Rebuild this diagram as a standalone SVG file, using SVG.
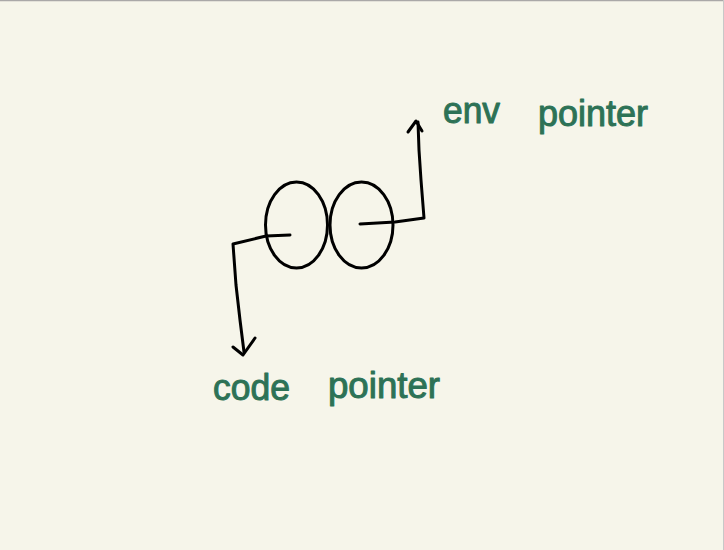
<svg xmlns="http://www.w3.org/2000/svg" width="724" height="550" viewBox="0 0 724 550">
<style>
.ink{fill:none;stroke:#000;stroke-width:3;stroke-linecap:round;stroke-linejoin:round}
.lbl{font-family:"Liberation Sans","DejaVu Sans",sans-serif;font-size:36px;fill:#2d7256;stroke:#2d7256;stroke-width:1;stroke-linejoin:round}
</style>
<rect x="0" y="0" width="724" height="550" fill="#f6f5ea"/>
<line x1="0" y1="0.5" x2="724" y2="0.5" stroke="#aaa8a8" stroke-width="1.5"/>
<line x1="723.5" y1="0" x2="723.5" y2="550" stroke="#c8c8c8" stroke-width="1"/>
<g id="cell-left"><ellipse class="ink" cx="296.5" cy="225" rx="31" ry="43"/></g>
<g id="cell-right"><ellipse class="ink" cx="361.5" cy="225" rx="31.5" ry="43"/></g>
<g id="connectors">
<path class="ink" d="M290,235 L266,236 L233,244 L236,285 L240,320 L244,352"/>
<path class="ink" d="M233,347 L243,355 L255,338"/>
<path class="ink" d="M360,224 L395,222 L424,218 L421,180 L419,150 L418,122"/>
<path class="ink" d="M408,132 L416,121 L422,131"/>
</g>
<g id="label-env"><text class="lbl" x="443" y="123" textLength="57" lengthAdjust="spacingAndGlyphs">env</text>
<text class="lbl" x="538" y="126" textLength="110" lengthAdjust="spacingAndGlyphs">pointer</text></g>
<g id="label-code"><text class="lbl" x="213" y="400" textLength="77" lengthAdjust="spacingAndGlyphs">code</text>
<text class="lbl" x="328" y="398" textLength="112" lengthAdjust="spacingAndGlyphs">pointer</text></g>
</svg>
